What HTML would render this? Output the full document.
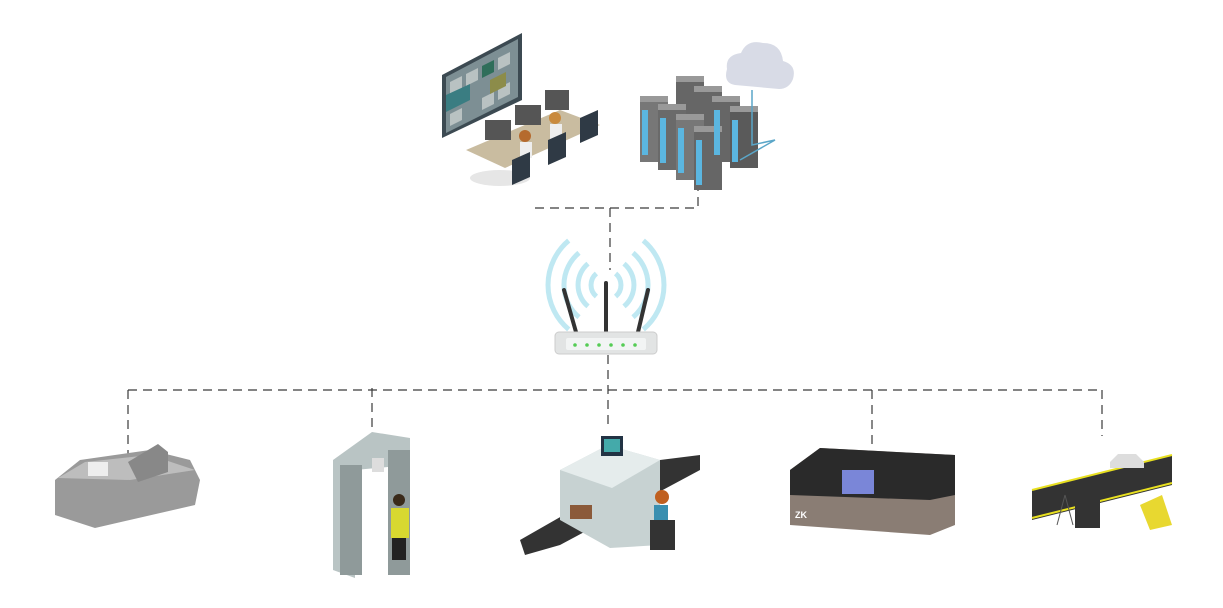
<!DOCTYPE html>
<html><head><meta charset="utf-8"><style>
html,body{margin:0;padding:0;background:#fff;width:1223px;height:608px;overflow:hidden}
svg{display:block}
</style></head><body>
<svg width="1223" height="608" viewBox="0 0 1223 608" xmlns="http://www.w3.org/2000/svg">
<g stroke="#3a3a3a" stroke-width="1.2" stroke-dasharray="9,6" fill="none">
<path d="M535 208 H698 V185"/>
<path d="M610 208 V270"/>
<path d="M608 355 V430"/>
<path d="M128 390 H1102"/>
<path d="M128 390 V458"/>
<path d="M372 388 V432"/>
<path d="M872 390 V450"/>
<path d="M1102 390 V436"/>
</g>
<!-- video wall -->
<polygon points="442,75 522,33 522,100 442,138" fill="#3c4a52"/>
<polygon points="446,77 518,39 518,97 446,133" fill="#7d8f94"/>
<g fill="#b9c2c2">
<polygon points="450,82 462,76 462,88 450,94"/><polygon points="466,74 478,68 478,80 466,86"/><polygon points="498,58 510,52 510,64 498,70"/>
<polygon points="450,114 462,108 462,120 450,126"/><polygon points="482,98 494,92 494,104 482,110"/><polygon points="498,88 510,82 510,94 498,100"/>
</g>
<polygon points="446,95 470,84 470,100 446,112" fill="#3a7d82"/>
<polygon points="482,66 494,60 494,72 482,78" fill="#2f6e5a"/>
<polygon points="490,80 506,72 506,86 490,94" fill="#8c8c4a"/>
<!-- desk -->
<polygon points="466,150 560,110 600,125 505,168" fill="#c9bca0"/>
<ellipse cx="500" cy="178" rx="30" ry="8" fill="#e6e6e6"/>
<rect x="485" y="120" width="26" height="20" fill="#555"/><rect x="515" y="105" width="26" height="20" fill="#555"/><rect x="545" y="90" width="24" height="20" fill="#555"/>
<circle cx="525" cy="136" r="6" fill="#b56a2e"/><circle cx="555" cy="118" r="6" fill="#c98a3e"/>
<rect x="520" y="142" width="12" height="16" fill="#eee"/><rect x="550" y="124" width="12" height="16" fill="#eee"/>
<path d="M512 160 l18 -8 v25 l-18 8z M548 140 l18 -8 v25 l-18 8z M580 118 l18 -8 v25 l-18 8z" fill="#2f3a45"/>
<!-- servers -->
<g>
<rect x="676" y="80" width="28" height="62" fill="#666"/><rect x="694" y="90" width="28" height="62" fill="#666"/><rect x="712" y="100" width="28" height="62" fill="#666"/><rect x="730" y="110" width="28" height="58" fill="#5a5a5a"/>
<rect x="640" y="100" width="28" height="62" fill="#777"/><rect x="658" y="108" width="28" height="62" fill="#6a6a6a"/>
<rect x="676" y="118" width="28" height="62" fill="#777"/><rect x="694" y="130" width="28" height="60" fill="#666"/>
</g>
<g fill="#999"><rect x="640" y="96" width="28" height="6"/><rect x="676" y="76" width="28" height="6"/><rect x="694" y="86" width="28" height="6"/><rect x="712" y="96" width="28" height="6"/><rect x="730" y="106" width="28" height="6"/><rect x="658" y="104" width="28" height="6"/><rect x="676" y="114" width="28" height="6"/><rect x="694" y="126" width="28" height="6"/></g>
<g fill="#5bb6e0"><rect x="642" y="110" width="6" height="45"/><rect x="660" y="118" width="6" height="45"/><rect x="678" y="128" width="6" height="45"/><rect x="696" y="140" width="6" height="45"/><rect x="714" y="110" width="6" height="45"/><rect x="732" y="120" width="6" height="42"/></g>
<path d="M752 90 V145 L775 140 L740 160" stroke="#5aa6c8" fill="none" stroke-width="1.5"/>
<path d="M735 85 q-12 -2 -8 -16 q-2 -14 14 -16 q6 -14 22 -10 q18 0 20 18 q14 4 10 18 q-4 10 -14 10z" fill="#d8dbe6"/>
<!-- router waves -->
<g fill="none" stroke="#bfe8f2" stroke-width="5">
<path d="M596.4 273.5 A15 15 0 0 0 596.4 296.5"/><path d="M588 263.6 A28 28 0 0 0 588 306.4"/><path d="M579 252.8 A42 42 0 0 0 579 317.2"/><path d="M568.7 240.6 A58 58 0 0 0 568.7 329.4"/>
<path d="M615.6 273.5 A15 15 0 0 1 615.6 296.5"/><path d="M624 263.6 A28 28 0 0 1 624 306.4"/><path d="M633 252.8 A42 42 0 0 1 633 317.2"/><path d="M643.3 240.6 A58 58 0 0 1 643.3 329.4"/>
</g>
<g stroke="#333" stroke-width="4" stroke-linecap="round"><line x1="564" y1="290" x2="576" y2="332"/><line x1="606" y1="283" x2="606" y2="332"/><line x1="648" y1="290" x2="638" y2="332"/></g>
<rect x="555" y="332" width="102" height="22" rx="4" fill="#e2e4e4" stroke="#ccc"/>
<rect x="566" y="338" width="80" height="12" rx="2" fill="#f2f4f4"/>
<g fill="#5c5"><circle cx="575" cy="345" r="1.8"/><circle cx="587" cy="345" r="1.8"/><circle cx="599" cy="345" r="1.8"/><circle cx="611" cy="345" r="1.8"/><circle cx="623" cy="345" r="1.8"/><circle cx="635" cy="345" r="1.8"/></g>
<!-- device 1 -->
<path d="M55 480 L80 460 L150 450 L190 460 L200 480 L195 505 L95 528 L55 515 Z" fill="#9a9a9a"/>
<path d="M58 478 L85 462 L150 455 L195 470 L130 480 Z" fill="#bdbdbd"/>
<path d="M128 462 l30 -18 l10 8 v20 l-30 10z" fill="#888"/>
<rect x="88" y="462" width="20" height="14" fill="#eee"/>
<!-- metal detector -->
<polygon points="333,460 372,432 410,438 410,465 355,470 355,578 333,570" fill="#b9c4c4"/>
<rect x="340" y="465" width="22" height="110" fill="#8f9a9a"/>
<rect x="388" y="450" width="22" height="125" fill="#8f9a9a"/>
<rect x="372" y="458" width="12" height="14" fill="#ddd"/>
<rect x="391" y="508" width="18" height="30" fill="#d8d830"/><rect x="392" y="538" width="14" height="22" fill="#222"/><circle cx="399" cy="500" r="6" fill="#3a2a1a"/>
<!-- xray -->
<path d="M520 540 L660 460 L700 455 L700 470 L560 545 L525 555 Z" fill="#333"/>
<polygon points="560,470 608,445 660,460 660,545 610,548 560,520" fill="#c7d2d2"/>
<polygon points="560,470 608,445 660,460 612,488" fill="#e5ecec"/>
<rect x="570" y="505" width="22" height="14" fill="#8b5a3a"/>
<rect x="601" y="436" width="22" height="20" fill="#234" /><rect x="604" y="439" width="16" height="13" fill="#4aa"/>
<rect x="654" y="505" width="14" height="25" fill="#3a8fb0"/><circle cx="662" cy="497" r="7" fill="#c06020"/>
<rect x="650" y="520" width="25" height="30" fill="#333"/>
<!-- ZK device -->
<path d="M790 470 L820 448 L955 455 L955 525 L930 535 L790 525 Z" fill="#8a7d74"/>
<path d="M790 470 L820 448 L955 455 L955 495 L930 500 L790 495 Z" fill="#2a2a2a"/>
<rect x="842" y="470" width="32" height="24" fill="#7a86d8"/>
<text x="795" y="518" font-family="Liberation Sans, sans-serif" font-size="9" font-weight="bold" fill="#fff">ZK</text>
<!-- road scanner -->
<polygon points="1032,490 1172,455 1172,485 1032,520" fill="#333"/>
<path d="M1032 490 L1172 455 M1032 518 L1172 483" stroke="#e8e020" stroke-width="2"/>
<path d="M1110 462 l8 -8 h18 l8 8 v6 h-34z" fill="#ddd"/>
<rect x="1075" y="500" width="25" height="28" fill="#333"/>
<polygon points="1140,505 1162,495 1172,525 1150,530" fill="#e8d830"/>
<path d="M1065 495 l-8 30 M1065 495 l8 30" stroke="#555"/>
</svg>
</body></html>
